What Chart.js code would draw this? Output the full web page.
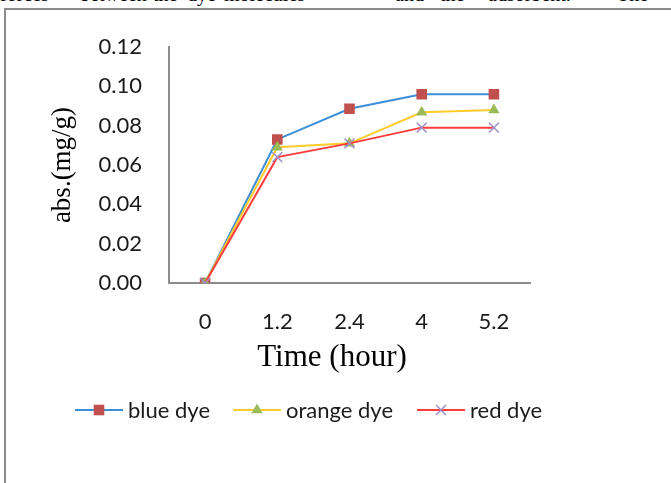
<!DOCTYPE html>
<html>
<head>
<meta charset="utf-8">
<script src="https://cdn.jsdelivr.net/npm/chart.js@4/dist/chart.umd.min.js"></script>
<style>
    html, body { margin: 0; padding: 0; background: #fff; overflow: hidden; }
    #wrap { position: relative; width: 671px; height: 483px; }
    .word {
        position: absolute; top: -17.5px;
        font: 20px "Liberation Serif", serif; color: #000; white-space: nowrap;
    }
    #frame {
        position: absolute; left: 4px; top: 8px; width: 700px; height: 500px;
        border-left: 2px solid #8c8c8c; border-top: 2px solid #8c8c8c;
    }
    canvas { position: absolute; left: 0; top: 0; }
</style>
</head>
<body>
<div id="wrap">
    <div id="topText"></div>
    <div id="frame"></div>
    <canvas id="chart" width="671" height="483"></canvas>
</div>
<script>
// Time points (category labels)
const timeLabels = ['0', '1.2', '2.4', '4', '5.2'];

// Adsorbed amount (mg/g)
const blueDye = [0, 0.073, 0.0886, 0.096, 0.096];
const orangeDye = [0, 0.069, 0.071, 0.0868, 0.088];
const redDye = [0, 0.064, 0.071, 0.079, 0.079];

const seriesNames = ['blue dye', 'orange dye', 'red dye'];

const yTitle = 'abs.(mg/g)';
const xTitle = 'Time (hour)';

// Cut-off line of body text above the figure
const topWords = ['forces', 'between', 'the', 'dye', 'molecules', 'and', 'the', 'adsorbent.', 'The'];
const topWordX = [0, 80, 153, 187, 224, 395, 440, 488, 617];

const topText = document.getElementById('topText');
topWords.forEach((w, i) => {
    const span = document.createElement('span');
    span.className = 'word';
    span.style.left = topWordX[i] + 'px';
    span.textContent = w;
    topText.appendChild(span);
});

const tickFont = { family: 'Lato', size: 22 };

// Draws marker shapes the same way for chart and legend
function drawMarker(ctx, style, x, y, r, fill, stroke) {
    ctx.save();
    ctx.fillStyle = fill;
    ctx.strokeStyle = stroke;
    ctx.lineWidth = 1.5;
    ctx.beginPath();
    if (style === 'rect') {
        const s = r * Math.SQRT1_2;
        ctx.rect(x - s, y - s, 2 * s, 2 * s);
        ctx.fill();
    } else if (style === 'triangle') {
        ctx.moveTo(x, y - r);
        ctx.lineTo(x + r * 0.866, y + r * 0.5);
        ctx.lineTo(x - r * 0.866, y + r * 0.5);
        ctx.closePath();
        ctx.fill();
    } else {
        const s = r * Math.SQRT1_2;
        ctx.moveTo(x - s, y - s); ctx.lineTo(x + s, y + s);
        ctx.moveTo(x - s, y + s); ctx.lineTo(x + s, y - s);
        ctx.stroke();
    }
    ctx.restore();
}

// Axis titles and the Excel-style legend (line + marker)
const decorPlugin = {
    id: 'decor',
    afterDraw(chart) {
        const ctx = chart.ctx;
        const area = chart.chartArea;
        ctx.save();
        ctx.fillStyle = '#000';
        ctx.textAlign = 'center';
        ctx.textBaseline = 'middle';

        ctx.font = '31px "Liberation Serif", serif';
        ctx.fillText(xTitle, 332, 358);

        ctx.save();
        ctx.translate(63, (area.top + area.bottom) / 2);
        ctx.rotate(-Math.PI / 2);
        ctx.font = '27px "Liberation Serif", serif';
        ctx.fillText(yTitle, 0, 0);
        ctx.restore();

        const legendX = [75, 233, 417];
        const legendY = 410;
        ctx.font = '22px Lato';
        ctx.textAlign = 'left';
        chart.data.datasets.forEach((ds, i) => {
            const x0 = legendX[i];
            ctx.strokeStyle = ds.borderColor;
            ctx.lineWidth = 2;
            ctx.beginPath();
            ctx.moveTo(x0, legendY);
            ctx.lineTo(x0 + 48, legendY);
            ctx.stroke();
            drawMarker(ctx, ds.pointStyle, x0 + 24, legendY, ds.pointRadius,
                ds.pointBackgroundColor, ds.pointBorderColor);
            ctx.fillStyle = '#1a1a1a';
            ctx.fillText(ds.label, x0 + 53, legendY + 1);
        });
        ctx.restore();
    }
};

const ctx = document.getElementById('chart').getContext('2d');
new Chart(ctx, {
    type: 'line',
    data: {
        labels: timeLabels,
        datasets: [
            {
                label: seriesNames[0], data: blueDye,
                borderColor: '#3c8fd6', borderWidth: 2,
                pointStyle: 'rect', pointRadius: 7.5,
                pointBackgroundColor: '#c0504d', pointBorderColor: '#c0504d', pointBorderWidth: 0,
                order: 2
            },
            {
                label: seriesNames[1], data: orangeDye,
                borderColor: '#ffcc2a', borderWidth: 2,
                pointStyle: 'triangle', pointRadius: 6.5,
                pointBackgroundColor: '#9bbb59', pointBorderColor: '#9bbb59', pointBorderWidth: 0,
                order: 1
            },
            {
                label: seriesNames[2], data: redDye,
                borderColor: '#ff3d3d', borderWidth: 2,
                pointStyle: 'crossRot', pointRadius: 7,
                pointBackgroundColor: '#a08cc8', pointBorderColor: '#a08cc8', pointBorderWidth: 1.5,
                order: 0
            }
        ]
    },
    options: {
        responsive: false,
        animation: false,
        layout: { padding: { left: 0, right: 141, top: 47, bottom: 0 } },
        plugins: {
            legend: { display: false },
            tooltip: { enabled: false }
        },
        elements: { line: { tension: 0 } },
        scales: {
            x: {
                offset: true,
                grid: { display: false, drawTicks: false },
                border: { color: '#8c8c8c', width: 2 },
                ticks: { font: tickFont, color: '#1a1a1a', padding: 26, maxRotation: 0 },
                afterFit: (scale) => { scale.height = 200; }
            },
            y: {
                min: 0, max: 0.12,
                grid: { display: false, drawTicks: false },
                border: { color: '#8c8c8c', width: 2 },
                ticks: {
                    font: tickFont, color: '#1a1a1a', padding: 27, stepSize: 0.02,
                    callback: (v) => v.toFixed(2)
                },
                afterFit: (scale) => { scale.width = 169; }
            }
        }
    },
    plugins: [decorPlugin]
});
</script>
</body>
</html>
